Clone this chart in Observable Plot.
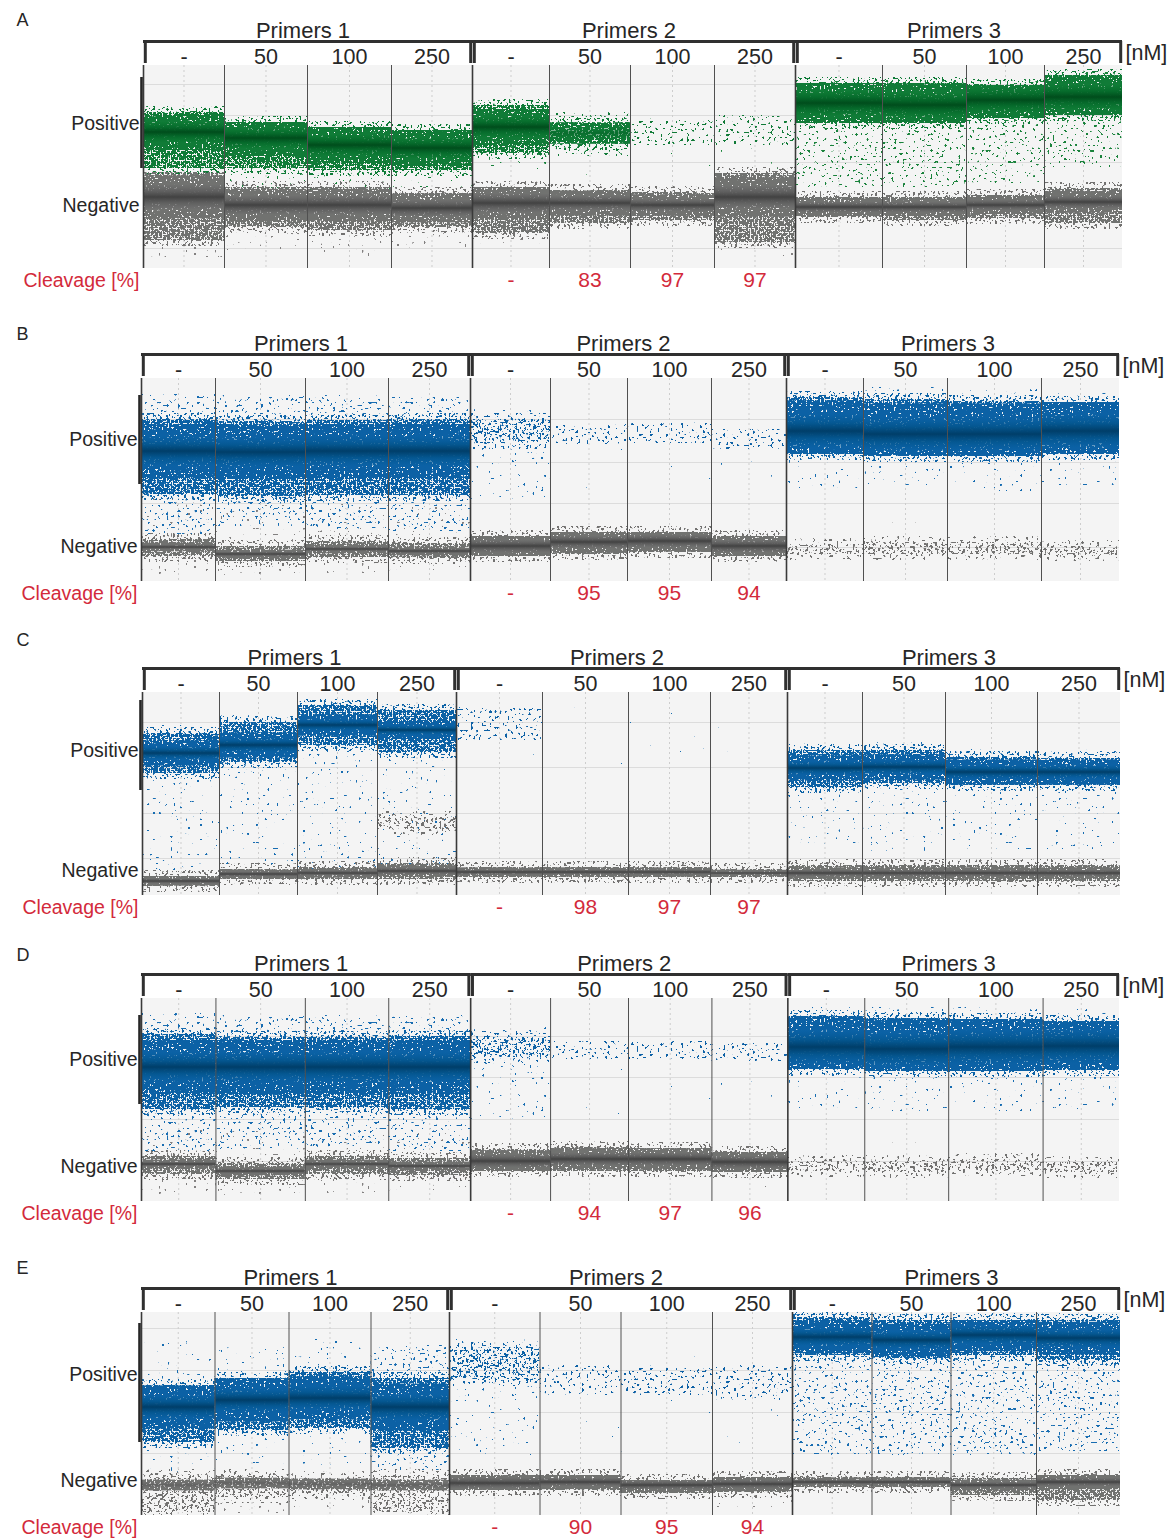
<!DOCTYPE html>
<html>
<head>
<meta charset="utf-8">
<script src="https://cdn.jsdelivr.net/npm/d3@7"></script>
<script src="https://cdn.jsdelivr.net/npm/@observablehq/plot@0.6"></script>
<style>
  body { margin: 0; background: #fff; }
  #fig { position: relative; width: 1174px; height: 1539px; overflow: hidden; background: #fff; }
  .panel { position: absolute; left: 0; }
</style>
</head>
<body>
<div id="fig"></div>
<script>
// ---------------- DATA ----------------
const primers = ["Primers 1", "Primers 2", "Primers 3"];
const concs = ["-", "50", "100", "250"];
const panelLetters = ["A", "B", "C", "D", "E"];

// droplet events per well (thousands) - x axis is cumulative event number
const eventsA = [16.2, 16.6, 16.8, 16.2, 15.4, 16.2, 16.8, 16.2, 17.4, 16.8, 15.6, 15.6];
const eventsB = [14.8, 18.0, 16.6, 16.4, 16.0, 15.4, 16.8, 15.0, 15.4, 16.8, 18.8, 15.6];
const eventsC = [15.4, 15.6, 16.0, 15.8, 17.2, 17.2, 16.4, 15.4, 15.0, 16.6, 18.4, 16.6];
const eventsD = [14.9, 17.9, 16.7, 16.4, 16.0, 15.6, 16.7, 15.2, 15.4, 16.8, 18.9, 15.3];
const eventsE = [14.7, 14.8, 16.4, 15.7, 18.1, 16.2, 18.3, 16.0, 15.9, 15.8, 17.1, 16.8];

// droplet clusters, amplitude units:
// [center, core half-width, cluster top, cluster bottom, cluster density 0-3, scatter top, scatter bottom, scatter density 0-3]
const posA = [
  [6800, 500, 7800, 5000, 3, 7900, 4750, 2], [6500, 500, 7300, 5000, 3, 7500, 3900, 2],
  [6150, 500, 7050, 4900, 3, 7300, 3900, 2], [6000, 500, 6900, 4900, 3, 7100, 4000, 2],
  [7050, 500, 8150, 5750, 3, 8400, 4900, 2], [6750, 300, 7500, 5900, 2, 7700, 4500, 1],
  [6900, 0, 7400, 6150, 1, 7600, 4500, 1], [7000, 0, 7650, 6150, 1, 7800, 4800, 1],
  [8250, 600, 9250, 7250, 3, 9400, 4050, 3], [8150, 600, 9250, 7250, 3, 9400, 4050, 3],
  [8400, 600, 9150, 7500, 3, 9350, 4250, 3], [8550, 600, 9650, 7650, 3, 9800, 5050, 3]
];
const negA = [
  [3550, 600, 4800, 1400, 3, 4900, 550, 2], [3150, 450, 4050, 2050, 3, 4300, 900, 2],
  [3150, 450, 4050, 1900, 3, 4300, 600, 2], [3000, 400, 3750, 2050, 3, 3900, 1000, 2],
  [3250, 450, 4050, 1750, 3, 4200, 1200, 2], [3250, 350, 3900, 2250, 3, 4000, 1400, 1],
  [3150, 300, 3800, 2400, 3, 3900, 1500, 1], [3550, 550, 4750, 1300, 3, 4900, 600, 2],
  [3050, 250, 3550, 2550, 3, 3700, 2200, 1], [3050, 250, 3550, 2400, 3, 3700, 2000, 1],
  [3150, 250, 3650, 2500, 3, 3800, 2100, 1], [3300, 300, 4000, 2250, 3, 4100, 2000, 1]
];
const posB = [
  [6500, 750, 8100, 4350, 3, 9350, 2350, 3], [6450, 750, 8000, 4250, 3, 9300, 2750, 3],
  [6500, 750, 8050, 4300, 3, 9300, 2600, 3], [6500, 750, 8100, 4300, 3, 9200, 2500, 3],
  [7600, 0, 8100, 6900, 2, 8600, 4000, 2], [7350, 0, 7850, 6850, 1, 8300, 4500, 1],
  [7450, 0, 7900, 6900, 1, 8400, 4000, 1], [7100, 0, 7600, 6600, 1, 8000, 5000, 1],
  [7500, 850, 9200, 6350, 3, 9600, 4600, 2], [7350, 850, 9100, 6250, 3, 9700, 4800, 2],
  [7350, 850, 9000, 6250, 3, 9600, 4500, 2], [7500, 850, 8950, 6350, 3, 9500, 4800, 2]
];
const negB = [
  [1700, 120, 2100, 1250, 3, 4100, 350, 2], [1350, 120, 1750, 1000, 3, 3800, 300, 2],
  [1600, 120, 2000, 1200, 3, 3900, 400, 2], [1500, 120, 1900, 1150, 3, 3800, 400, 2],
  [1750, 300, 2250, 1250, 3, 2600, 600, 1], [1950, 300, 2450, 1350, 3, 2700, 800, 1],
  [2000, 300, 2450, 1450, 3, 2700, 900, 1], [1750, 300, 2250, 1250, 3, 2500, 800, 1],
  [1600, 0, 1850, 1350, 2, 3000, 1000, 1], [1650, 0, 1950, 1350, 2, 3000, 1000, 1],
  [1650, 0, 1950, 1350, 2, 3000, 1000, 1], [1500, 0, 1750, 1300, 2, 2800, 1000, 1]
];
const posC = [
  [7100, 350, 8100, 6100, 3, 8500, 1250, 2], [7500, 350, 8650, 6650, 3, 9000, 1500, 2],
  [8500, 300, 9500, 7500, 3, 9800, 1300, 2], [8250, 250, 9250, 7150, 3, 9600, 1500, 2],
  [8400, 0, 9350, 7750, 1, 9700, 7000, 1], [8000, 0, 8000, 8000, 0, 9800, 5000, 1],
  [8000, 0, 8000, 8000, 0, 9500, 6000, 1], [8000, 0, 8000, 8000, 0, 9600, 6500, 1],
  [6350, 350, 7250, 5400, 3, 7600, 2500, 2], [6400, 350, 7250, 5600, 3, 7700, 2200, 2],
  [6150, 350, 6900, 5500, 3, 7300, 2300, 2], [6150, 350, 6850, 5500, 3, 7300, 2300, 2]
];
const negC = [
  [700, 130, 950, 450, 3, 1000, 300, 1], [1050, 130, 1300, 800, 3, 1400, 600, 1],
  [1100, 130, 1400, 800, 3, 1500, 600, 1], [1200, 160, 1600, 800, 3, 1700, 600, 1],
  [1150, 130, 1400, 900, 3, 1500, 700, 1], [1150, 130, 1400, 900, 3, 1450, 700, 1],
  [1150, 130, 1400, 900, 3, 1450, 700, 1], [1100, 90, 1300, 900, 3, 1750, 700, 2],
  [1100, 160, 1500, 700, 3, 1600, 500, 1], [1100, 160, 1500, 700, 3, 1600, 500, 1],
  [1100, 160, 1500, 700, 3, 1600, 500, 1], [1100, 160, 1500, 700, 3, 1600, 500, 1]
];
// secondary grey cluster: [well index, ...cluster]
const extraC = [[3, 3600, 0, 3900, 3300, 2, 4750, 1800, 2]];
const posD = [
  [6700, 750, 8350, 4600, 3, 9400, 2500, 3], [6700, 750, 8200, 4700, 3, 9300, 2600, 3],
  [6700, 750, 8200, 4700, 3, 9300, 2700, 3], [6700, 750, 8250, 4600, 3, 9300, 2500, 3],
  [7750, 0, 8200, 7200, 2, 8700, 4000, 2], [7600, 0, 8000, 7100, 1, 8400, 4000, 1],
  [7600, 0, 8000, 7100, 1, 8500, 4000, 1], [7500, 0, 7900, 7000, 1, 8200, 5000, 1],
  [7700, 850, 9250, 6600, 3, 9700, 4500, 2], [7600, 850, 9150, 6500, 3, 9700, 4500, 2],
  [7700, 850, 9100, 6500, 3, 9700, 4500, 2], [7750, 850, 9000, 6550, 3, 9600, 4600, 2]
];
const negD = [
  [1850, 120, 2250, 1350, 3, 3600, 350, 2], [1500, 120, 1900, 1100, 3, 3500, 300, 2],
  [1850, 120, 2250, 1350, 3, 3500, 400, 2], [1750, 120, 2150, 1300, 3, 3500, 400, 2],
  [2000, 300, 2600, 1500, 3, 2900, 700, 1], [2100, 300, 2700, 1500, 3, 2900, 800, 1],
  [2100, 300, 2650, 1500, 3, 2900, 900, 1], [1950, 300, 2450, 1450, 3, 2700, 700, 1],
  [1750, 0, 2000, 1500, 2, 3000, 1000, 1], [1750, 0, 2000, 1450, 2, 3000, 1000, 1],
  [1850, 0, 2100, 1550, 2, 3000, 1000, 1], [1700, 0, 1950, 1450, 2, 2800, 1000, 1]
];
const posE = [
  [5400, 600, 6500, 3650, 3, 8750, 2150, 2], [5750, 600, 6850, 4250, 3, 8500, 2500, 2],
  [5850, 600, 7150, 4350, 3, 8800, 2500, 2], [5400, 650, 6850, 3350, 3, 8500, 2250, 3],
  [7400, 0, 8400, 6750, 2, 8800, 3000, 2], [6750, 0, 7500, 6000, 1, 8000, 3500, 1],
  [6750, 0, 7350, 6000, 1, 8000, 3000, 1], [6500, 0, 7500, 5750, 1, 8200, 3000, 1],
  [8900, 450, 9900, 8000, 3, 10100, 3000, 3], [8750, 450, 9750, 7850, 3, 10100, 3000, 3],
  [9000, 450, 9750, 8000, 3, 10100, 3000, 3], [8850, 450, 9750, 7750, 3, 10100, 3200, 3]
];
const negE = [
  [1500, 150, 2000, 150, 2, 2300, 0, 2], [1600, 150, 2000, 900, 2, 2200, 100, 2],
  [1550, 150, 1850, 1050, 2, 2200, 300, 2], [1500, 150, 2000, 150, 2, 2300, 0, 2],
  [1600, 250, 2000, 1250, 3, 2200, 500, 1], [1650, 200, 2000, 1250, 3, 2150, 1000, 2],
  [1500, 200, 1750, 1100, 3, 2000, 500, 1], [1550, 200, 1900, 1150, 3, 2000, 400, 2],
  [1650, 130, 1900, 1400, 3, 2000, 1200, 1], [1650, 130, 1900, 1400, 3, 2000, 1200, 1],
  [1500, 150, 1850, 1000, 3, 2000, 700, 2], [1650, 200, 2000, 750, 3, 2100, 500, 2]
];

const cleavA = ["-", "83", "97", "97"];
const cleavB = ["-", "95", "95", "94"];
const cleavC = ["-", "98", "97", "97"];
const cleavD = ["-", "94", "97", "96"];
const cleavE = ["-", "90", "95", "94"];

// amplitude gridlines
const gridA = [9200, 7650, 5300, 1000];
const gridB = [8100, 5950, 3900, 1700];
const gridC = [8650, 6400, 4100, 1850];
const gridD = [8250, 6200, 4100, 2000];
const gridE = [9350, 7250, 5150, 3100];

const posLabelY = [7250, 7100, 7250, 7100, 7050];
const negLabelY = [3150, 1750, 1250, 1750, 1750];
const posBarY = [[9550, 5000], [9300, 4850], [9750, 5250], [9300, 4850], [9600, 3650]];

// ---------------- LAYOUT / STYLE ----------------
const FONT = "Liberation Sans, Arial, Helvetica, sans-serif";
const RED = "#d32a3b";
const INK = "#262626";
const YMAX = 10150;
const FRINGE = 300; // soft edge of each cluster (amplitude units)
const green = {dot: [14, 122, 54], sparse: [24, 130, 58], grad: "gG"};
const blue = {dot: [10, 96, 164], sparse: [22, 108, 176], grad: "gB"};
const grey = {dot: [112, 112, 112], sparse: [128, 128, 128], grad: "gK"};

// texture settings for speckle filters (style only): [threshold, seed, grain frequency]
const speckles = {
  fS1: [0.79, 11, 0.34], fS2: [0.72, 23, 0.34], fS3: [0.66, 37, 0.36], fK1: [0.64, 41, 0.38],
  fK2: [0.59, 53, 0.45], fK3: [0.485, 67, 0.5], fIn: [0.40, 79, 0.5]
};

function defsMarkup(sfx) {
  let s = "";
  for (const [id, [t, seed, f]] of Object.entries(speckles)) {
    s += `<filter id="${id}${sfx}" x="0" y="0" width="1" height="1" filterUnits="objectBoundingBox" color-interpolation-filters="sRGB">
      <feTurbulence type="fractalNoise" baseFrequency="${f}" numOctaves="1" seed="${seed}" result="n"/>
      <feColorMatrix in="n" type="matrix" values="0 0 0 0 0  0 0 0 0 0  0 0 0 0 0  0 0 0 60 ${(-60 * t).toFixed(2)}" result="m"/>
      <feComposite in="SourceGraphic" in2="m" operator="in"/>
    </filter>`;
  }
  const grads = {
    G: ["#0c7a33", "#05682a", "#004d1c"],
    B: ["#0a62a6", "#04568f", "#003e69"],
    K: ["#6e6e6e", "#5c5c5c", "#424242"]
  };
  for (const [k, [a, b, c]] of Object.entries(grads)) {
    s += `<linearGradient id="g${k}3${sfx}" x1="0" y1="0" x2="0" y2="1">
      <stop offset="0" stop-color="${a}" stop-opacity="0.5"/>
      <stop offset="0.28" stop-color="${b}" stop-opacity="0.95"/>
      <stop offset="0.5" stop-color="${c}" stop-opacity="1"/>
      <stop offset="0.72" stop-color="${b}" stop-opacity="0.95"/>
      <stop offset="1" stop-color="${a}" stop-opacity="0.5"/>
    </linearGradient>
    <linearGradient id="g${k}2${sfx}" x1="0" y1="0" x2="0" y2="1">
      <stop offset="0" stop-color="${a}" stop-opacity="0.2"/>
      <stop offset="0.5" stop-color="${b}" stop-opacity="0.75"/>
      <stop offset="1" stop-color="${a}" stop-opacity="0.2"/>
    </linearGradient>`;
  }
  return s;
}

const panels = [
  {events: eventsA, pos: posA, neg: negA, cleav: cleavA, grid: gridA, extra: [], pal: green, top: 0, height: 313, ml: 143, mr: 52, letterY: 20},
  {events: eventsB, pos: posB, neg: negB, cleav: cleavB, grid: gridB, extra: [], pal: blue, top: 313, height: 314, ml: 141, mr: 55, letterY: 21},
  {events: eventsC, pos: posC, neg: negC, cleav: cleavC, grid: gridC, extra: extraC, pal: blue, top: 627, height: 306, ml: 142, mr: 54, letterY: 13},
  {events: eventsD, pos: posD, neg: negD, cleav: cleavD, grid: gridD, extra: [], pal: blue, top: 933, height: 314, ml: 141, mr: 55, letterY: 22},
  {events: eventsE, pos: posE, neg: negE, cleav: cleavE, grid: gridE, extra: [], pal: blue, top: 1247, height: 292, ml: 141, mr: 54, letterY: 21}
];

function drawPanel(p, pi) {
  const sfx = "_" + pi;
  const ends = Array.from(d3.cumsum(p.events));
  const wells = p.events.map((e, i) => {
    const x1 = i ? ends[i - 1] : 0, x2 = ends[i];
    return {i, x1, x2, mid: (x1 + x2) / 2};
  });
  const total = ends[ends.length - 1];
  const groups = [0, 1, 2].map(g => ({g, label: primers[g], x1: wells[4 * g].x1, x2: wells[4 * g + 3].x2, mid: (wells[4 * g].x1 + wells[4 * g + 3].x2) / 2}));

  const L = {sparse: [], outer: [], inner: [], core: []};
  function add(t, w, kind) {
    const [c, hw, hi, lo, k, sHi, sLo, sd] = t;
    if (sd > 0) L.sparse.push({x1: w.x1, x2: w.x2, y1: sLo, y2: sHi, d: sd, kind});
    if (k >= 2) L.outer.push({x1: w.x1, x2: w.x2, y1: Math.max(0, lo - FRINGE), y2: Math.min(YMAX, hi + FRINGE), d: k - 1, kind});
    if (k > 0) L.outer.push({x1: w.x1, x2: w.x2, y1: lo, y2: hi, d: k, kind});
    if (hw > 0) {
      L.inner.push({x1: w.x1, x2: w.x2, y1: Math.max(lo, c - 1.8 * hw), y2: Math.min(hi, c + 1.8 * hw), kind});
      L.core.push({x1: w.x1, x2: w.x2, y1: c - hw, y2: c + hw, d: Math.max(2, k), kind});
    }
  }
  wells.forEach(w => add(p.neg[w.i], w, "neg"));
  p.extra.forEach(e => add(e.slice(1), wells[e[0]], "neg"));
  wells.forEach(w => add(p.pos[w.i], w, "pos"));

  // each speckle layer gets a uniquely tagged colour so its group can receive the texture filter
  const tagMap = new Map();
  let tagN = 0;
  function tagColor(rgb, filterId) {
    tagN++;
    const c = `rgb(${rgb[0] + (tagN % 3)},${rgb[1] + (Math.floor(tagN / 3) % 3)},${rgb[2] + Math.floor(tagN / 9)})`;
    tagMap.set(c, filterId);
    return c;
  }

  const R = {x1: "x1", x2: "x2", y1: "y1", y2: "y2"};
  const marks = [
    Plot.rect(wells, {x1: "x1", x2: "x2", y1: 0, y2: YMAX, fill: "#f4f4f4"}),
    Plot.ruleY(p.grid, {stroke: "#dcdcdc", strokeWidth: 1}),
    Plot.ruleX(wells, {x: "mid", stroke: "#cdcdcd", strokeDasharray: "2,3"})
  ];
  for (const kind of ["neg", "pos"]) {
    const col = kind === "pos" ? p.pal : grey;
    for (const d of [1, 2, 3]) marks.push(Plot.rect(L.sparse.filter(r => r.kind === kind && r.d === d), {...R, fill: tagColor(col.sparse, "fS" + d)}));
    for (const d of [1, 2, 3]) marks.push(Plot.rect(L.outer.filter(r => r.kind === kind && r.d === d), {...R, fill: tagColor(col.dot, "fK" + d)}));
    marks.push(Plot.rect(L.inner.filter(r => r.kind === kind), {...R, fill: tagColor(col.dot, "fIn")}));
    for (const d of [2, 3]) marks.push(Plot.rect(L.core.filter(r => r.kind === kind && r.d === d), {...R, fill: () => `url(#${col.grad}${d}${sfx})`}));
  }
  marks.push(Plot.ruleX(wells.filter(w => w.i % 4 !== 0), {x: "x1", stroke: "#505050", strokeWidth: 1}));
  marks.push(Plot.ruleX(wells.filter(w => w.i % 4 === 0), {x: "x1", stroke: "#3a3a3a", strokeWidth: 1.6}));
  marks.push(Plot.ruleX([0], {x: d => d, y1: posBarY[pi][0], y2: posBarY[pi][1], dx: -2, stroke: INK, strokeWidth: 2.6}));
  const bTop = YMAX + 24 * 50, bBot = YMAX + 2 * 50;
  marks.push(Plot.ruleY(groups, {x1: "x1", x2: "x2", y: bTop, stroke: "#303030", strokeWidth: 3}));
  marks.push(Plot.ruleX(groups, {x: "x1", y1: bBot, y2: bTop, dx: 1.8, stroke: "#303030", strokeWidth: 3}));
  marks.push(Plot.ruleX(groups, {x: "x2", y1: bBot, y2: bTop, dx: -1.8, stroke: "#303030", strokeWidth: 3}));
  const tx = {fontFamily: FONT, fill: INK, lineAnchor: "middle"};
  marks.push(Plot.text(groups, {...tx, x: "mid", y: YMAX + 35 * 50, text: "label", fontSize: 22, dx: -5}));
  marks.push(Plot.text(wells, {...tx, x: "mid", y: YMAX + 8 * 50, text: w => concs[w.i % 4], fontSize: 21.5}));
  marks.push(Plot.text(["[nM]"], {...tx, frameAnchor: "top-right", dx: 3, dy: -12, textAnchor: "start", fontSize: 21.5}));
  marks.push(Plot.text([panelLetters[pi]], {...tx, frameAnchor: "top-left", dx: 16 - p.ml, dy: p.letterY - 65, fontSize: 18}));
  marks.push(Plot.text(["Positive"], {...tx, x: 0, y: posLabelY[pi], dx: -4, textAnchor: "end", fontSize: 19.5}));
  marks.push(Plot.text(["Negative"], {...tx, x: 0, y: negLabelY[pi], dx: -4, textAnchor: "end", fontSize: 19.5}));
  marks.push(Plot.text(["Cleavage [%]"], {fontFamily: FONT, fill: RED, lineAnchor: "middle", x: 0, y: -12 * 50, dx: -4, textAnchor: "end", fontSize: 19.5}));
  marks.push(Plot.text(wells.slice(4, 8), {fontFamily: FONT, fill: RED, lineAnchor: "middle", x: "mid", y: -12 * 50, text: w => p.cleav[w.i - 4], fontSize: 21}));

  const svg = Plot.plot({
    width: 1174,
    height: p.height,
    marginLeft: p.ml,
    marginRight: p.mr,
    marginTop: 65,
    marginBottom: p.height - 65 - 203,
    x: {domain: [0, total], axis: null},
    y: {domain: [0, YMAX], axis: null},
    color: {type: "identity"},
    style: {background: "transparent", overflow: "visible", fontFamily: FONT},
    marks
  });
  const defs = document.createElementNS("http://www.w3.org/2000/svg", "defs");
  defs.innerHTML = defsMarkup(sfx);
  svg.insertBefore(defs, svg.firstChild);
  svg.querySelectorAll("g[fill]").forEach(g => {
    const f = g.getAttribute("fill").replace(/\s/g, "");
    if (tagMap.has(f)) g.setAttribute("filter", `url(#${tagMap.get(f)}${sfx})`);
  });
  const div = document.createElement("div");
  div.className = "panel";
  div.style.top = p.top + "px";
  div.appendChild(svg);
  document.getElementById("fig").appendChild(div);
}

panels.forEach(drawPanel);
</script>
</body>
</html>
